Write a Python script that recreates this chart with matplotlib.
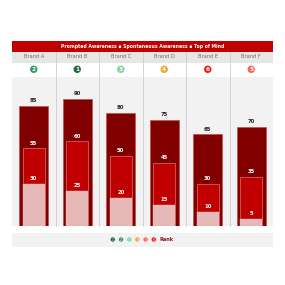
import numpy as np
import matplotlib
matplotlib.use("Agg")
import matplotlib.pyplot as plt
from matplotlib.patches import Rectangle, Circle

brands = ["Brand A", "Brand B", "Brand C", "Brand D", "Brand E", "Brand F"]
prompted = [85, 90, 80, 75, 65, 70]
spontaneous = [55, 60, 50, 45, 30, 35]
top_of_mind = [30, 25, 20, 15, 10, 5]
ranks = [2, 1, 3, 4, 6, 5]
rank_colors = {1: "#1d6b3e", 2: "#2f9a5e", 3: "#7fd3a2", 4: "#f2a531", 5: "#ff5c5c", 6: "#ff1414"}
title = "Prompted Awareness \u25aa Spontaneous Awareness \u25aa Top of Mind"

W = H = 285
fig = plt.figure(figsize=(2.85, 2.85), dpi=100)
fig.patch.set_facecolor("white")

# background / decoration axes in pixel coords
bg = fig.add_axes([0, 0, 1, 1])
bg.set_xlim(0, W)
bg.set_ylim(H, 0)
bg.axis("off")

L, R = 12, 273
colw = (R - L) / 6
bg.add_patch(Rectangle((L, 41), R - L, 10.5, color="#c00000", lw=0))
bg.text((L + R) / 2, 46.3, title, color="white", fontsize=3.3, fontweight="bold",
        ha="center", va="center")
bg.add_patch(Rectangle((L, 51.5), R - L, 11, color="#e6e6e6", lw=0))
for i, b in enumerate(brands):
    cx = L + colw * (i + 0.5)
    bg.text(cx, 57, b, color="#6b6b6b", fontsize=3.7, ha="center", va="center")
    c = rank_colors[ranks[i]]
    bg.add_patch(Circle((cx, 69.3), 3.7, color=c, lw=0))
    bg.text(cx, 69.5, str(ranks[i]), color="white", fontsize=4.2, fontweight="bold",
            ha="center", va="center")
for i in range(1, 6):
    x = L + colw * i
    bg.plot([x, x], [51.5, 226], color="#cccccc", lw=0.6)

# bottom legend band
bg.add_patch(Rectangle((L, 233), R - L, 13.5, color="#f2f2f2", lw=0))
for k in range(1, 7):
    x = 112.8 + (k - 1) * 8.2
    bg.add_patch(Circle((x, 239.5), 2.2, color=rank_colors[k], lw=0))
    bg.text(x, 239.6, str(k), color="white", fontsize=2.2, ha="center", va="center")
bg.text(159, 239.6, "Rank", color="#8b1a1a", fontsize=3.6, fontweight="bold",
        ha="left", va="center")

# main bar axes
y0, y1 = 226, 76.7
ax = fig.add_axes([L / W, 1 - y0 / H, (R - L) / W, (y0 - y1) / H])
ax.set_facecolor("#f2f2f2")
ax.set_xlim(-0.5, 5.5)
ax.set_ylim(0, (y0 - y1) / 1.41)
for s in ax.spines.values():
    s.set_visible(False)
ax.set_xticks([])
ax.set_yticks([])
for i in range(1, 6):
    ax.axvline(i - 0.5, color="#cccccc", lw=0.6)

x = np.arange(len(brands))
ax.bar(x, prompted, width=0.66, color="#800000", edgecolor="#c0504d", lw=0.5, zorder=2)
ax.bar(x, spontaneous, width=0.5, color="#c00000", edgecolor="#e07070", lw=0.5, zorder=3)
ax.bar(x, top_of_mind, width=0.5, color="#e6b8b7", edgecolor="#e6b8b7", lw=0.3, zorder=4)

for i in x:
    ax.text(i, prompted[i] + 2, str(prompted[i]), color="#222222", fontsize=3.8,
            fontweight="bold", ha="center", va="bottom", zorder=5)
    ax.text(i, spontaneous[i] + 2, str(spontaneous[i]), color="white", fontsize=3.8,
            fontweight="bold", ha="center", va="bottom", zorder=5)
    ax.text(i, top_of_mind[i] + 2, str(top_of_mind[i]), color="white", fontsize=3.8,
            fontweight="bold", ha="center", va="bottom", zorder=5)

fig.savefig("out.png", dpi=100)
